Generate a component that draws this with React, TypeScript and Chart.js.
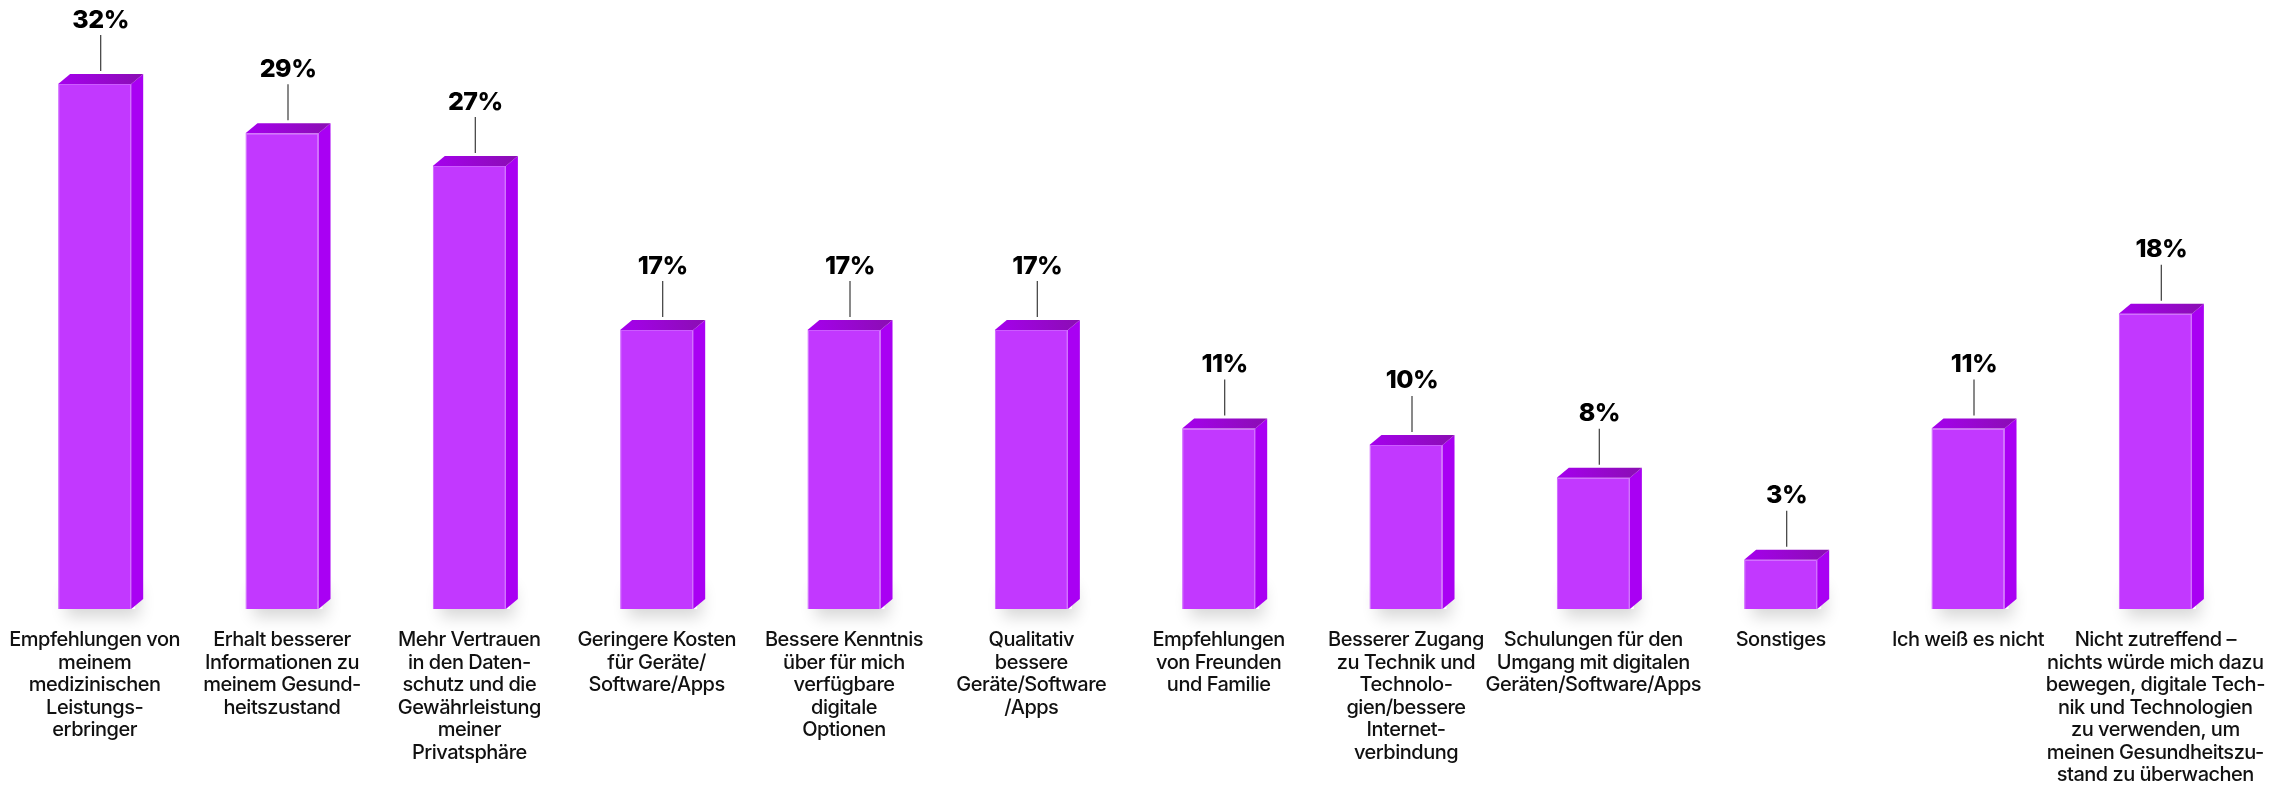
import React, { useEffect, useRef } from "react";
import { Chart, registerables } from "chart.js";

Chart.register(...registerables);

const categories: string[][] = [
  ["Empfehlungen von", "meinem", "medizinischen", "Leistungs-", "erbringer"],
  ["Erhalt besserer", "Informationen zu", "meinem Gesund-", "heitszustand"],
  ["Mehr Vertrauen", "in den Daten-", "schutz und die", "Gewährleistung", "meiner", "Privatsphäre"],
  ["Geringere Kosten", "für Geräte/", "Software/Apps"],
  ["Bessere Kenntnis", "über für mich", "verfügbare", "digitale", "Optionen"],
  ["Qualitativ", "bessere", "Geräte/Software", "/Apps"],
  ["Empfehlungen", "von Freunden", "und Familie"],
  ["Besserer Zugang", "zu Technik und", "Technolo-", "gien/bessere", "Internet-", "verbindung"],
  ["Schulungen für den", "Umgang mit digitalen", "Geräten/Software/Apps"],
  ["Sonstiges"],
  ["Ich weiß es nicht"],
  ["Nicht zutreffend –", "nichts würde mich dazu", "bewegen, digitale Tech-", "nik und Technologien", "zu verwenden, um", "meinen Gesundheitszu-", "stand zu überwachen"],
];

const values: number[] = [32, 29, 27, 17, 17, 17, 11, 10, 8, 3, 11, 18];
const valueLabels: string[] = values.map((v) => v + "%");

const FRONT = "#C238FF";
const SIDE = "#A900F3";
const TOP_L = "#A600EE";
const TOP_R = "#8A0EB2";
const DX = 12;
const DY = 10;

const box3d = {
  id: "box3d",
  beforeDraw(chart: any) {
    (chart.ctx as any).letterSpacing = "-0.5px";
  },
  beforeDatasetsDraw(chart: any) {
    const ctx = chart.ctx;
    const meta = chart.getDatasetMeta(0);
    meta.data.forEach((bar: any) => {
      const w = bar.width;
      const left = bar.x - w / 2;
      ctx.save();
      ctx.shadowColor = "rgba(0,0,0,0.16)";
      ctx.shadowBlur = 16;
      ctx.shadowOffsetY = 8;
      ctx.shadowOffsetX = 4;
      ctx.fillStyle = "#ffffff";
      ctx.fillRect(left + 4, bar.base - 30, w, 30);
      ctx.restore();
    });
  },
  afterDatasetsDraw(chart: any) {
    const ctx = chart.ctx;
    const meta = chart.getDatasetMeta(0);
    ctx.save();
    meta.data.forEach((bar: any, i: number) => {
      const w = bar.width;
      const left = bar.x - w / 2;
      const right = bar.x + w / 2;
      const top = bar.y;
      const base = bar.base;
      ctx.beginPath();
      ctx.moveTo(right, top);
      ctx.lineTo(right + DX, top - DY);
      ctx.lineTo(right + DX, base - DY);
      ctx.lineTo(right, base);
      ctx.closePath();
      ctx.fillStyle = SIDE;
      ctx.fill();
      const g = ctx.createLinearGradient(left, top, right + DX, top - DY);
      g.addColorStop(0, TOP_L);
      g.addColorStop(1, TOP_R);
      ctx.beginPath();
      ctx.moveTo(left, top);
      ctx.lineTo(left + DX, top - DY);
      ctx.lineTo(right + DX, top - DY);
      ctx.lineTo(right, top);
      ctx.closePath();
      ctx.fillStyle = g;
      ctx.fill();
      const cx = bar.x + DX / 2;
      ctx.beginPath();
      ctx.moveTo(cx, top - 49);
      ctx.lineTo(cx, top - 13);
      ctx.strokeStyle = "#4a4a4a";
      ctx.lineWidth = 1.3;
      ctx.stroke();
      ctx.fillStyle = "#000000";
      ctx.font = "800 25px Inter";
      ctx.textAlign = "center";
      ctx.textBaseline = "middle";
      ctx.fillText(valueLabels[i], cx, top - 64);
    });
    ctx.restore();
  },
};

export default function App() {
  const ref = useRef<HTMLCanvasElement>(null);
  useEffect(() => {
    document.body.style.margin = "0";
    const chart = new Chart(ref.current!, {
      type: "bar",
      data: {
        labels: categories,
        datasets: [
          {
            data: values,
            backgroundColor: FRONT,
            borderColor: "#CC5CFF",
            borderWidth: 1,
            barPercentage: 0.39,
            categoryPercentage: 1,
          },
        ],
      },
      options: {
        responsive: false,
        animation: false,
        maintainAspectRatio: false,
        layout: { padding: { left: 1, right: 44, top: 2, bottom: 0 } },
        plugins: { legend: { display: false }, tooltip: { enabled: false } },
        scales: {
          x: {
            grid: { display: false, drawTicks: false },
            border: { display: false },
            afterFit: (scale: any) => {
              scale.height = 176;
              scale.paddingLeft = 0;
              scale.paddingRight = 0;
            },
            ticks: {
              autoSkip: false,
              maxRotation: 0,
              minRotation: 0,
              padding: 20,
              color: "#111111",
              font: { family: "Inter", size: 20, weight: "500", lineHeight: 1.125 },
            },
          },
          y: { display: false, min: 0, max: 37 },
        },
      },
      plugins: [box3d],
    });
    return () => chart.destroy();
  }, []);
  return <canvas ref={ref} width={2293} height={785} style={{ display: "block" }} />;
}
